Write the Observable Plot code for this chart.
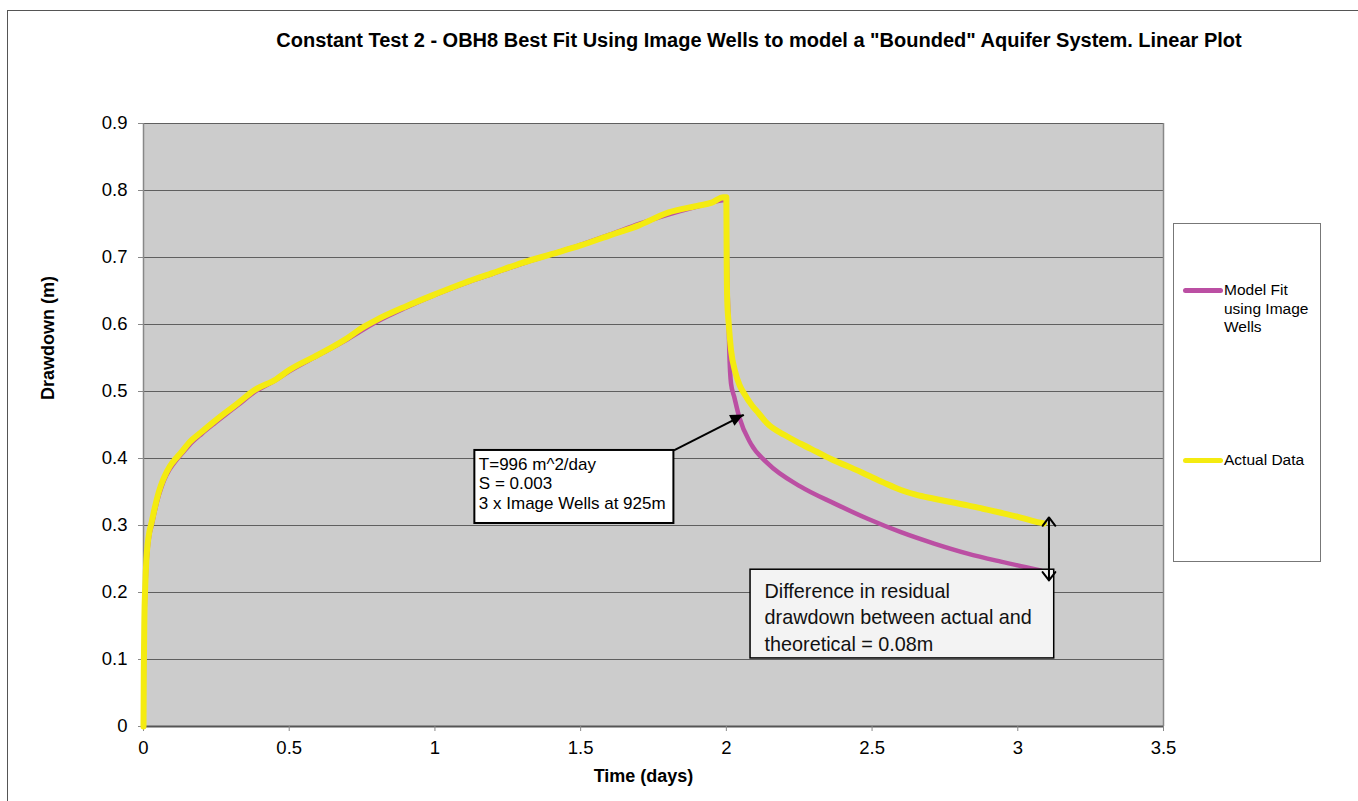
<!DOCTYPE html>
<html><head><meta charset="utf-8">
<script src="https://cdn.jsdelivr.net/npm/d3@7"></script>
<script src="https://cdn.jsdelivr.net/npm/@observablehq/plot@0.6"></script>
<style>
body{margin:0;background:#fff;font-family:"Liberation Sans",Arial,sans-serif;}
#wrap{position:relative;width:1358px;height:801px;overflow:hidden;background:#fff;}
#wrap svg{position:absolute;left:0;top:0;}
#frameBorder{position:absolute;left:7px;top:10px;width:1400px;height:900px;border-left:1px solid #555;border-top:1px solid #555;box-sizing:border-box;pointer-events:none;}
#title{position:absolute;left:209px;width:1100px;top:29px;text-align:center;font-weight:bold;font-size:20px;color:#000;white-space:nowrap;}
#legend{position:absolute;left:1173px;top:223px;width:148px;height:339px;border:1px solid #777;background:#fff;box-sizing:border-box;}
.lg{position:absolute;left:0;font-size:15.5px;line-height:18.5px;color:#000;}
.sw{position:absolute;left:9px;width:40px;height:5px;border-radius:3px;}
.lt{position:absolute;left:50px;white-space:nowrap;}
</style></head><body>
<div id="wrap"><div id="frameBorder"></div></div>
<script>
// ---- Data ----
const chartTitle = 'Constant Test 2 - OBH8 Best Fit Using Image Wells to model a "Bounded" Aquifer System. Linear Plot';
const xLabel = "Time (days)";
const yLabel = "Drawdown (m)";
const xTicks = [0, 0.5, 1, 1.5, 2, 2.5, 3, 3.5];
const yTicks = [0, 0.1, 0.2, 0.3, 0.4, 0.5, 0.6, 0.7, 0.8, 0.9];
const seriesNames = ["Model Fit\nusing Image\nWells", "Actual Data"];
const seriesColors = ["#bb4fa3", "#f4eb10"];

const actualT = [0,0.001,0.003,0.006,0.01,0.015,0.02,0.028,0.038,0.048,0.06,0.071,0.09,0.117,0.135,0.157,0.2,0.242,0.28,0.322,0.38,0.454,0.5,0.6,0.7,0.75,0.8,0.9,1.0,1.1,1.2,1.3,1.4,1.5,1.6,1.7,1.8,1.9,1.95,1.99,2.0,
  2.001,2.003,2.008,2.016,2.03,2.045,2.061,2.09,2.11,2.141,2.2,2.255,2.31,2.37,2.43,2.485,2.54,2.599,2.65,2.713,2.77,2.828,2.88,2.942,3.0,3.05,3.09];
const actualD = [0,0.08,0.16,0.21,0.25,0.275,0.29,0.305,0.325,0.343,0.36,0.372,0.388,0.403,0.412,0.424,0.44,0.455,0.468,0.482,0.502,0.518,0.532,0.555,0.58,0.595,0.607,0.627,0.645,0.662,0.677,0.692,0.705,0.718,0.733,0.748,0.767,0.777,0.782,0.79,0.79,
  0.70,0.636,0.602,0.562,0.53,0.51,0.497,0.478,0.468,0.452,0.435,0.422,0.41,0.397,0.386,0.375,0.364,0.353,0.346,0.34,0.335,0.33,0.325,0.319,0.313,0.307,0.303];

const modelT = [0,0.001,0.003,0.006,0.01,0.015,0.02,0.028,0.038,0.048,0.06,0.071,0.09,0.117,0.135,0.157,0.2,0.242,0.28,0.322,0.38,0.454,0.5,0.6,0.7,0.8,0.9,1.0,1.1,1.2,1.3,1.4,1.5,1.6,1.7,1.8,1.9,2.0,
  2.002,2.005,2.008,2.01,2.016,2.027,2.044,2.084,2.141,2.255,2.37,2.485,2.599,2.713,2.828,2.942,3.079];
const modelD = [0,0.07,0.15,0.2,0.24,0.268,0.285,0.3,0.32,0.338,0.355,0.368,0.384,0.4,0.409,0.42,0.437,0.452,0.465,0.479,0.499,0.517,0.53,0.554,0.578,0.604,0.625,0.644,0.661,0.676,0.691,0.705,0.719,0.734,0.75,0.764,0.776,0.786,
  0.70,0.64,0.60,0.562,0.512,0.492,0.462,0.422,0.393,0.358,0.333,0.31,0.29,0.273,0.258,0.246,0.233];

// annotations (data units)
const note1Lines = ["T=996 m^2/day", "S = 0.003", "3 x Image Wells at 925m"];
const note1Box = [{x1: 1.137, x2: 1.82, y1: 0.303, y2: 0.412}];
const note1Arrow = [{x1: 1.82, y1: 0.412, x2: 2.06, y2: 0.465}];
const note2Lines = ["Difference in residual", "drawdown between actual and", "theoretical = 0.08m"];
const note2Box = [{x1: 2.083, x2: 3.125, y1: 0.1016, y2: 0.234}];
const diffArrow = {x: 3.107, top: 0.312, bottom: 0.218};

// ---- Build ----
const actual = actualT.map((t, i) => ({t, d: actualD[i]}));
const model = modelT.map((t, i) => ({t, d: modelD[i]}));
const diffMid = (diffArrow.top + diffArrow.bottom) / 2;
const diffArrows = [
  {x1: diffArrow.x, y1: diffMid, x2: diffArrow.x, y2: diffArrow.top},
  {x1: diffArrow.x, y1: diffMid, x2: diffArrow.x, y2: diffArrow.bottom}
];
const fmt = d => String(+d.toFixed(1));
const font = '"Liberation Sans", Arial, sans-serif';

const plot = Plot.plot({
  width: 1358, height: 801,
  marginLeft: 143, marginRight: 195, marginTop: 123, marginBottom: 75,
  style: {fontFamily: font, fontSize: "18.5px", background: "transparent", color: "#000", overflow: "visible"},
  x: {domain: [0, 3.5]},
  y: {domain: [0, 0.9]},
  marks: [
    Plot.frame({fill: "#cccccc", stroke: "none"}),
    Plot.ruleY(yTicks.filter(v => v > 0), {stroke: "#5f5f5f", strokeWidth: 1}),
    Plot.ruleX([0], {stroke: "#888", strokeWidth: 1.5}),
    Plot.ruleX([3.5], {stroke: "#888", strokeWidth: 1.5}),
    Plot.ruleY([0], {stroke: "#555", strokeWidth: 2}),
    Plot.axisX({ticks: xTicks, tickFormat: fmt, tickSize: 5, tickPadding: 9, stroke: "#888", label: null, fontSize: 18.5}),
    Plot.axisY({ticks: yTicks, tickFormat: fmt, tickSize: 5, tickPadding: 11, stroke: "#888", label: null, fontSize: 18.5}),
    Plot.line(model, {x: "t", y: "d", stroke: seriesColors[0], strokeWidth: 4.5, curve: "monotone-x"}),
    Plot.line(actual, {x: "t", y: "d", stroke: seriesColors[1], strokeWidth: 6, curve: "monotone-x"}),
    // annotation 1
    Plot.link(note1Arrow, {x1: "x1", y1: "y1", x2: "x2", y2: "y2", stroke: "#000", strokeWidth: 2}),
    Plot.rect(note1Box, {x1: "x1", x2: "x2", y1: "y1", y2: "y2", fill: "#fff", stroke: "#000", strokeWidth: 2}),
    Plot.text([note1Lines.join("\n")], {x: note1Box[0].x1, y: note1Box[0].y2, text: d => d, textAnchor: "start", lineAnchor: "top", dx: 4, dy: 5, fontSize: 17, lineHeight: 1.17, fill: "#000"}),
    // annotation 2
    Plot.rect(note2Box, {x1: "x1", x2: "x2", y1: "y1", y2: "y2", fill: "#f3f3f3", stroke: "#000", strokeWidth: 1.5}),
    Plot.text([note2Lines.join("\n")], {x: note2Box[0].x1, y: note2Box[0].y2, text: d => d, textAnchor: "start", lineAnchor: "top", dx: 14, dy: 10, fontSize: 19.8, lineHeight: 1.32, fill: "#111"}),
    Plot.arrow(diffArrows, {x1: "x1", y1: "y1", x2: "x2", y2: "y2", stroke: "#000", strokeWidth: 2, headLength: 11, headAngle: 75, inset: 0}),
    // axis titles
    Plot.text([yLabel], {frameAnchor: "left", textAnchor: "middle", dx: -95, dy: -87, rotate: -90, fontWeight: "bold", fontSize: 18, fill: "#000"}),
    Plot.text([xLabel], {frameAnchor: "bottom", textAnchor: "middle", dx: -10, dy: 55, fontWeight: "bold", fontSize: 18, fill: "#000"})
  ]
});

// filled arrow head for annotation 1, positioned with the plot's scales
{
  const sx = plot.scale("x"), sy = plot.scale("y");
  const a = note1Arrow[0];
  const x1 = sx.apply(a.x1), y1 = sy.apply(a.y1), x2 = sx.apply(a.x2), y2 = sy.apply(a.y2);
  const ang = Math.atan2(y2 - y1, x2 - x1), L = 13, W = 6;
  const bx = x2 - L * Math.cos(ang), by = y2 - L * Math.sin(ang);
  const px = -Math.sin(ang) * W, py = Math.cos(ang) * W;
  d3.select(plot).append("path")
    .attr("d", `M${x2},${y2}L${bx + px},${by + py}L${bx - px},${by - py}Z`)
    .attr("fill", "#000");
}

const wrap = document.getElementById("wrap");
wrap.insertBefore(plot, wrap.firstChild);

const t = document.createElement("div");
t.id = "title"; t.textContent = chartTitle; wrap.appendChild(t);

const lg = document.createElement("div"); lg.id = "legend";
const legendTops = [57, 227];
seriesNames.forEach((name, i) => {
  const e = document.createElement("div"); e.className = "lg"; e.style.top = legendTops[i] + "px";
  const sw = document.createElement("div"); sw.className = "sw"; sw.style.background = seriesColors[i]; sw.style.top = "7px";
  const tx = document.createElement("div"); tx.className = "lt"; tx.innerHTML = name.split("\n").join("<br>");
  e.appendChild(sw); e.appendChild(tx); lg.appendChild(e);
});
wrap.appendChild(lg);
</script>
</body></html>
